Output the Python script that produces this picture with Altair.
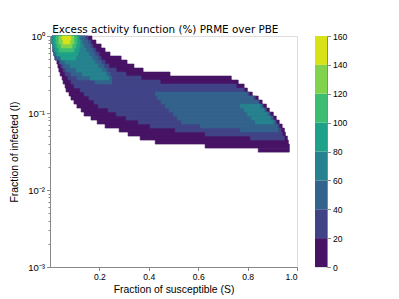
import altair as alt
import pandas as pd

# grid of rows in log10(I): row r spans log10 I from -LOG_STEP*r to -LOG_STEP*(r+1)
LOG_STEP = 0.052
LEVELS = [0, 20, 40, 60, 80, 100, 120, 140, 160]
COLORS = ["#471365", "#414387", "#33638d", "#26828e", "#1fa088", "#3dbc74", "#81d34d", "#d7e219"]

# (row, S_start, S_end) for the region where the value exceeds each level
BAND0 = [(0, 0.008, 0.170), (1, 0.008, 0.186), (2, 0.012, 0.207), (3, 0.012, 0.223),
         (4, 0.016, 0.243), (5, 0.020, 0.288), (6, 0.028, 0.312), (7, 0.032, 0.340),
         (8, 0.036, 0.377), (9, 0.041, 0.486), (10, 0.049, 0.734), (11, 0.053, 0.762),
         (12, 0.061, 0.786), (13, 0.065, 0.799), (14, 0.077, 0.819), (15, 0.085, 0.843),
         (16, 0.097, 0.859), (17, 0.109, 0.876), (18, 0.126, 0.888), (19, 0.138, 0.904),
         (20, 0.166, 0.916), (21, 0.191, 0.928), (22, 0.223, 0.940), (23, 0.280, 0.949),
         (24, 0.316, 0.953), (25, 0.365, 0.961), (26, 0.426, 0.965), (27, 0.628, 0.969),
         (28, 0.843, 0.969)]
BAND1 = [(0, 0.008, 0.154), (1, 0.008, 0.166), (2, 0.012, 0.174), (3, 0.012, 0.186),
         (4, 0.016, 0.199), (5, 0.020, 0.207), (6, 0.036, 0.223), (7, 0.045, 0.239),
         (8, 0.053, 0.268), (9, 0.061, 0.308), (10, 0.073, 0.369), (11, 0.085, 0.446),
         (12, 0.097, 0.754), (13, 0.122, 0.786), (14, 0.138, 0.807), (15, 0.158, 0.831),
         (16, 0.178, 0.847), (17, 0.195, 0.863), (18, 0.235, 0.876), (19, 0.268, 0.892),
         (20, 0.308, 0.904), (21, 0.357, 0.916), (22, 0.405, 0.928), (23, 0.507, 0.936),
         (24, 0.628, 0.940), (25, 0.811, 0.949)]
BAND2 = [(0, 0.008, 0.142), (1, 0.008, 0.154), (2, 0.012, 0.162), (3, 0.012, 0.174),
         (4, 0.016, 0.182), (5, 0.024, 0.195), (6, 0.041, 0.207), (7, 0.053, 0.219),
         (8, 0.065, 0.231), (9, 0.085, 0.243), (10, 0.109, 0.251), (11, 0.182, 0.251),
         (14, 0.426, 0.799), (15, 0.434, 0.823), (16, 0.450, 0.843), (17, 0.466, 0.859),
         (18, 0.482, 0.871), (19, 0.499, 0.888), (20, 0.515, 0.900), (21, 0.531, 0.912),
         (22, 0.608, 0.920), (23, 0.770, 0.924)]
BAND3 = [(0, 0.008, 0.122), (1, 0.008, 0.130), (2, 0.012, 0.138), (3, 0.016, 0.146),
         (4, 0.024, 0.158), (5, 0.041, 0.170), (6, 0.061, 0.182), (7, 0.081, 0.195),
         (8, 0.105, 0.211), (9, 0.130, 0.227), (10, 0.162, 0.239),
         (17, 0.770, 0.851), (18, 0.786, 0.867), (19, 0.799, 0.880), (20, 0.815, 0.892),
         (21, 0.831, 0.904)]
BAND4 = [(0, 0.012, 0.118), (1, 0.012, 0.122), (2, 0.016, 0.122), (3, 0.020, 0.118),
         (4, 0.028, 0.113), (5, 0.045, 0.105)]
BAND5 = [(0, 0.024, 0.109), (1, 0.024, 0.109), (2, 0.028, 0.105), (3, 0.036, 0.097)]
BAND6 = [(0, 0.036, 0.097), (1, 0.036, 0.097), (2, 0.045, 0.089)]
BAND7 = [(0, 0.049, 0.085), (1, 0.053, 0.081)]

X_TICKS = [0.2, 0.4, 0.6, 0.8, 1.0]
Y_MAJOR = [1.0, 0.1, 0.01, 0.001]
Y_MAJOR_LABELS = ["10⁰", "10⁻¹", "10⁻²", "10⁻³"]
Y_MINOR = [m * d for d in [0.001, 0.01, 0.1] for m in range(2, 10)]

records = []
for lvl, band in enumerate([BAND0, BAND1, BAND2, BAND3, BAND4, BAND5, BAND6, BAND7]):
    for r, s0, s1 in band:
        records.append({"level": lvl, "s0": s0, "s1": s1,
                        "i_top": 10 ** (-LOG_STEP * r), "i_bot": 10 ** (-LOG_STEP * (r + 1))})
df = pd.DataFrame(records)

FONT = "DejaVu Sans"
color_scale = alt.Scale(domain=list(range(8)), range=COLORS)

major_test = " || ".join(f"datum.value == {v}" for v in Y_MAJOR)
label_expr = " : ".join(f"datum.value == {v} ? '{t}'" for v, t in zip(Y_MAJOR, Y_MAJOR_LABELS)) + " : ''"

field = alt.Chart(df).mark_rect(strokeWidth=0.6).encode(
    x=alt.X("s0:Q", scale=alt.Scale(domain=[0.0, 1.0], nice=False, zero=False),
            axis=alt.Axis(values=X_TICKS, format=".1f", title="Fraction of susceptible (S)",
                          tickSize=3.5, labelFontSize=8.6, titleFontSize=10.4, labelPadding=2,
                          titlePadding=3, grid=False, titleFontWeight="normal")),
    x2="s1",
    y=alt.Y("i_top:Q", scale=alt.Scale(type="log", domain=[0.001, 1.0], nice=False),
            axis=alt.Axis(values=Y_MAJOR + Y_MINOR, labelExpr=label_expr,
                          tickSize={"condition": {"test": major_test, "value": 3.5}, "value": 2},
                          title="Fraction of infected (I)", labelFontSize=9.5, titleFontSize=10.4,
                          labelPadding=2, titlePadding=8, grid=False, titleFontWeight="normal")),
    y2="i_bot",
    color=alt.Color("level:O", scale=color_scale, legend=None),
    stroke=alt.Stroke("level:O", scale=color_scale, legend=None),
    order=alt.Order("level:Q"),
).properties(width=247, height=231)

cb_df = pd.DataFrame({"lo": LEVELS[:-1], "hi": LEVELS[1:], "level": list(range(8))})
cbar = alt.Chart(cb_df).mark_rect().encode(
    x=alt.value(0), x2=alt.value(12),
    y=alt.Y("lo:Q", scale=alt.Scale(domain=[0, 160], nice=False),
            axis=alt.Axis(orient="right", values=LEVELS, title=None, tickSize=3.5,
                          labelFontSize=8.6, labelPadding=2, grid=False)),
    y2="hi",
    color=alt.Color("level:O", scale=color_scale, legend=None),
).properties(width=12, height=231)

chart = alt.hconcat(field, cbar, spacing=16).properties(
    title=alt.Title("Excess activity function (%) PRME over PBE", fontSize=10.4,
                    fontWeight="normal", font=FONT, color="black", anchor="start", dx=43, offset=-5),
    padding={"left": 1, "top": 17, "right": 5, "bottom": 5},
).configure_view(stroke="black", strokeWidth=1).configure_axis(
    domainColor="black", tickColor="black", labelColor="black", titleColor="black",
    labelFont=FONT, titleFont=FONT, titleFontWeight="normal", domainWidth=1, tickWidth=1,
).configure(background="white")

chart.save("out.html", embed_options={"renderer": "svg", "actions": False})
